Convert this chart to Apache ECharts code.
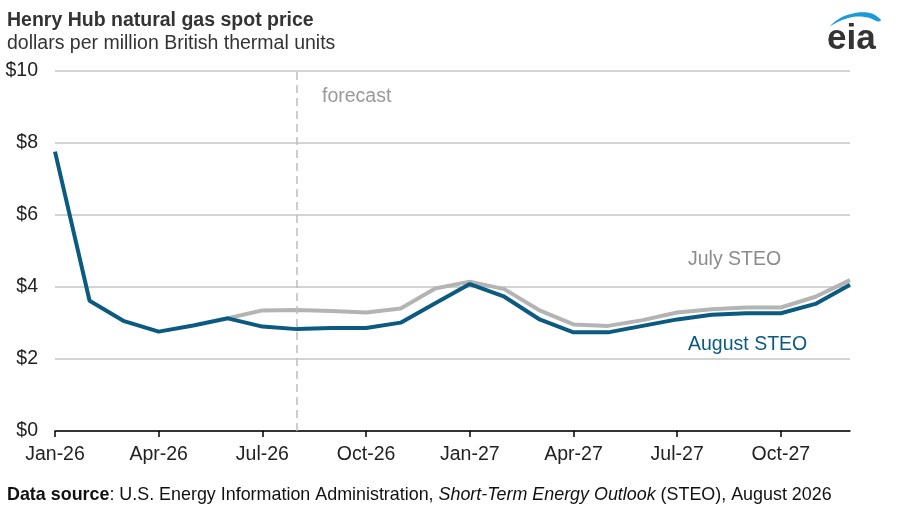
<!DOCTYPE html>
<html>
<head>
<meta charset="utf-8">
<script src="https://cdn.jsdelivr.net/npm/echarts@6/dist/echarts.min.js"></script>
<style>
  html, body { margin: 0; padding: 0; background: #fff; }
  #chart { width: 900px; height: 517px; }
</style>
</head>
<body>
<div id="chart"></div>
<script>
// months, Jan-26 .. Dec-27
var months = ['Jan-26','Feb-26','Mar-26','Apr-26','May-26','Jun-26','Jul-26','Aug-26','Sep-26','Oct-26','Nov-26','Dec-26',
              'Jan-27','Feb-27','Mar-27','Apr-27','May-27','Jun-27','Jul-27','Aug-27','Sep-27','Oct-27','Nov-27','Dec-27'];
// August STEO (dollars per MMBtu)
var augustSteo = [7.76, 3.62, 3.05, 2.76, 2.93, 3.13, 2.90, 2.83, 2.86, 2.86, 3.01, 3.55,
                  4.08, 3.73, 3.11, 2.74, 2.74, 2.92, 3.10, 3.23, 3.27, 3.27, 3.53, 4.06];
// July STEO, only shown where it differs
var julySteo = [null, null, null, null, null, 3.13, 3.35, 3.36, 3.33, 3.29, 3.40, 3.96,
                4.15, 3.94, 3.36, 2.96, 2.92, 3.08, 3.29, 3.38, 3.43, 3.43, 3.73, 4.19];
var forecastStart = 'Aug-26';
var yTicks = { min: 0, max: 10, interval: 2 };

var chart = echarts.init(document.getElementById('chart'));
var font = '"Liberation Sans", Arial, sans-serif';
var fs = 19.5;

chart.setOption({
    backgroundColor: '#fff',
    animation: false,
    textStyle: { fontFamily: font },
    grid: { left: 55, right: 50, top: 71, bottom: 86 },
    xAxis: {
        type: 'category',
        data: months,
        boundaryGap: false,
        axisLine: { lineStyle: { color: '#000', width: 1.5 } },
        axisTick: { show: true, interval: 2, length: 6, lineStyle: { color: '#000', width: 1.5 } },
        axisLabel: { interval: 2, color: '#222', fontSize: fs, margin: 14, fontFamily: font }
    },
    yAxis: {
        type: 'value',
        min: yTicks.min,
        max: yTicks.max,
        interval: yTicks.interval,
        axisLine: { show: false },
        axisTick: { show: false },
        axisLabel: {
            color: '#222', fontSize: fs, margin: 17, fontFamily: font,
            formatter: function (v) { return '$' + v; }
        },
        splitLine: { lineStyle: { color: '#c4c4c4', width: 1.5 } }
    },
    series: [
        {
            name: 'July STEO',
            type: 'line',
            data: julySteo,
            symbol: 'none',
            lineStyle: { color: '#b4b4b4', width: 4 },
            z: 2
        },
        {
            name: 'August STEO',
            type: 'line',
            data: augustSteo,
            symbol: 'none',
            lineStyle: { color: '#0b5a80', width: 4 },
            z: 3,
            markLine: {
                silent: true,
                symbol: ['none', 'none'],
                label: { show: false },
                lineStyle: { color: '#bdbdbd', width: 1.5, type: [8, 5] },
                data: [{ xAxis: forecastStart }]
            }
        }
    ],
    graphic: [
        {
            type: 'text', left: 7, top: 11,
            style: { text: 'Henry Hub natural gas spot price', fontSize: fs, fontWeight: 'bold', fill: '#333', fontFamily: font }
        },
        {
            type: 'text', left: 7, top: 33.5,
            style: { text: 'dollars per million British thermal units', fontSize: fs, fill: '#333', fontFamily: font }
        },
        {
            type: 'text', left: 322, top: 86.5,
            style: { text: 'forecast', fontSize: fs, fill: '#999', fontFamily: font }
        },
        {
            type: 'text', left: 688, top: 249.5,
            style: { text: 'July STEO', fontSize: fs, fill: '#8c8c8c', fontFamily: font }
        },
        {
            type: 'text', left: 688, top: 334.5,
            style: { text: 'August STEO', fontSize: fs, fill: '#0b5a80', fontFamily: font }
        },
        {
            type: 'text', left: 7, top: 486,
            style: {
                text: '{b|Data source}: U.S. Energy Information Administration, {i|Short-Term Energy Outlook} (STEO), August 2026',
                fontSize: 17.9, fill: '#111', fontFamily: font,
                rich: {
                    b: { fontWeight: 'bold', fontSize: 17.9, fill: '#111', fontFamily: font },
                    i: { fontStyle: 'italic', fontSize: 17.9, fill: '#111', fontFamily: font }
                }
            }
        },
        // eia logo
        {
            type: 'polygon',
            shape: {
                points: [[830, 26], [842, 17], [858, 12.5], [872, 13.5], [881, 20],
                         [878, 21.5], [868, 17.5], [856, 16.5], [842, 20]],
                smooth: 0.3
            },
            style: { fill: '#1b9ad6' }
        },
        {
            type: 'text', left: 827, top: 22,
            style: { text: 'eia', fontSize: 35, fontWeight: 'bold', fill: '#333', fontFamily: font }
        }
    ]
});
</script>
</body>
</html>
